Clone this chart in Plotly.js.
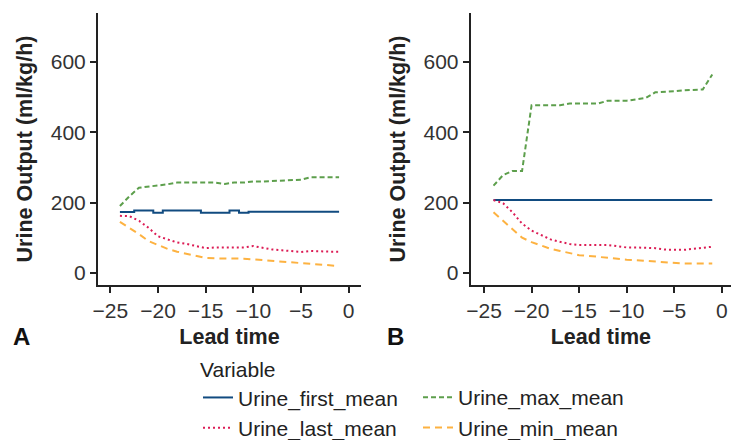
<!DOCTYPE html>
<html><head><meta charset="utf-8">
<script src="https://cdn.plot.ly/plotly-3.0.1.min.js"></script>
<style>body{margin:0;background:#fff}#chart{width:731px;height:440px}</style>
</head><body><div id="chart"></div>
<script>
// Lead time (hours before event)
const leadTime = [-24,-23,-22,-21,-20,-19,-18,-17,-16,-15,-14,-13,-12,-11,-10,-9,-8,-7,-6,-5,-4,-3,-2,-1];

// Panel A
const firstA = [173,173,177,177,171,177,177,177,177,171,171,171,177,171,174,174,174,174,174,174,174,174,174,174];
const maxA   = [190,218,242,245,247,252,257,257,257,257,257,253,257,257,260,260,261,263,264,265,272,272,272,272];
const lastA  = [162,161,148,128,104,96,86,82,76,70,72,72,72,72,76,70,66,64,62,59,62,60,60,60];
const minA   = [145,128,110,90,78,68,60,54,48,42,41,41,40,40,38,36,34,31,28,26,24,22,20,19];

// Panel B
const firstB = [207,207,207,207,207,207,207,207,207,207,207,207,207,207,207,207,207,207,207,207,207,207,207,207];
const maxB   = [248,278,290,290,477,477,477,477,482,482,482,482,490,490,490,494,498,514,515,517,520,521,522,565];
const lastB  = [207,198,172,140,120,108,95,88,82,79,78,79,79,76,72,72,71,70,66,65,65,68,70,74];
const minB   = [172,148,125,100,87,77,68,62,55,50,48,45,42,39,37,36,34,33,30,27,26,26,26,26];

const seriesNames = ['Urine_first_mean','Urine_last_mean','Urine_max_mean','Urine_min_mean'];
const yTicks = [0,200,400,600];
const xTicks = [-25,-20,-15,-10,-5,0];

const COL = {first:'#114b80', last:'#dc1c55', max:'#5d9f4c', min:'#fdb241'};
const DASH = {first:'solid', last:'2px,3px', max:'5px,3px', min:'7px,5px'};

function tr(y, key, name, xa, ya, legend, show, shape){
  return {x: leadTime, y: y, type:'scatter', mode:'lines', name: name,
    xaxis: xa, yaxis: ya, legend: legend, showlegend: show,
    line:{color: COL[key], width: 2, dash: DASH[key], shape: shape || 'linear'},
    hoverinfo:'skip'};
}

const data = [
  tr(firstA,'first',seriesNames[0],'x','y','legend',true,'hvh'),
  tr(lastA,'last',seriesNames[1],'x','y','legend',true),
  tr(maxA,'max',seriesNames[2],'x','y','legend2',true),
  tr(minA,'min',seriesNames[3],'x','y','legend2',true),
  tr(firstB,'first',seriesNames[0],'x2','y2','legend',false),
  tr(lastB,'last',seriesNames[1],'x2','y2','legend',false),
  tr(maxB,'max',seriesNames[2],'x2','y2','legend2',false),
  tr(minB,'min',seriesNames[3],'x2','y2','legend2',false)
];

const FONT = 'Liberation Sans, Arial, sans-serif';
const axisCommon = {
  showgrid:false, zeroline:false, showline:true, linecolor:'#222', linewidth:2,
  ticks:'outside', ticklen:6, tickwidth:2, tickcolor:'#222', automargin:false,
  tickfont:{family:FONT, size:21, color:'#333'}, fixedrange:true
};
const yDomain = [(440-285)/440, (440-13)/440];
const yAxis = (anchor) => Object.assign({}, axisCommon, {
  range:[-35,740], tickvals: yTicks, domain: yDomain, anchor: anchor,
  title:{text:'<b>Urine Output (ml/kg/h)</b>', font:{family:FONT, size:21.5, color:'#222'}, standoff:12}
});
const xAxis = (anchor, domain, range) => Object.assign({}, axisCommon, {
  range: range, tickvals: xTicks, domain: domain, anchor: anchor,
  title:{text:'<b>Lead time</b>', font:{family:FONT, size:21.5, color:'#222'}, standoff:8}
});

const LFONT = {family:FONT, size:21, color:'#222'};
const layout = {
  width:731, height:440,
  margin:{l:0,r:0,t:0,b:0,autoexpand:false},
  paper_bgcolor:'#fff', plot_bgcolor:'#fff',
  font:{family:FONT, color:'#222'},
  xaxis: xAxis('y', [98/731, 361/731], [-26.3, 1.3]),
  yaxis: yAxis('x'),
  xaxis2: xAxis('y2', [470.7/731, 1], [-26.4, 0.97]),
  yaxis2: yAxis('x2'),
  legend:{x:198/731, y:(440-350)/440, xanchor:'left', yanchor:'top',
    orientation:'v', title:{text:'Variable', side:'top', font:LFONT},
    font:LFONT, bgcolor:'rgba(0,0,0,0)', tracegroupgap:0, itemwidth:30},
  legend2:{x:418/731, y:(440-377)/440, xanchor:'left', yanchor:'top',
    orientation:'v', font:LFONT, bgcolor:'rgba(0,0,0,0)', tracegroupgap:0, itemwidth:30},
  annotations:[
    {text:'<b>A</b>', xref:'paper', yref:'paper', x:21/731, y:(440-336)/440, showarrow:false,
      font:{family:FONT, size:24, color:'#111'}, xanchor:'center', yanchor:'middle'},
    {text:'<b>B</b>', xref:'paper', yref:'paper', x:395/731, y:(440-336)/440, showarrow:false,
      font:{family:FONT, size:24, color:'#111'}, xanchor:'center', yanchor:'middle'}
  ],
  showlegend:true
};

Plotly.newPlot('chart', data, layout, {staticPlot:true, displayModeBar:false});
</script>
</body></html>
